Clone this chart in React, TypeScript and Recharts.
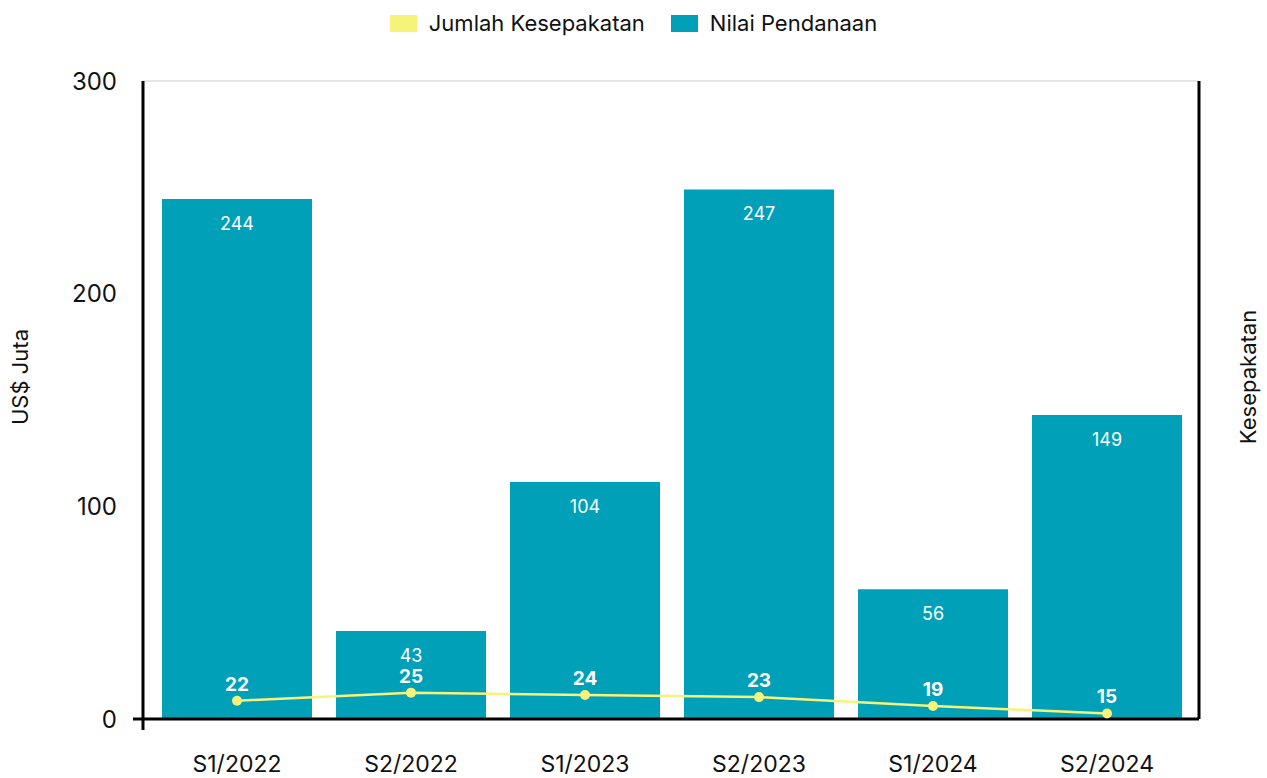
import { ComposedChart, Bar, Line, XAxis, YAxis, CartesianGrid, Legend, LabelList } from "recharts";

const periods = ["S1/2022", "S2/2022", "S1/2023", "S2/2023", "S1/2024", "S2/2024"];
// bar heights as drawn (US$ Juta) and the numbers printed on them
const fundingValues = [244.5, 41.4, 111.4, 249, 61, 143];
const fundingLabels = [244, 43, 104, 247, 56, 149];
// deal count line as drawn, and its printed labels
const dealValues = [8.6, 12.4, 11.3, 10.3, 6.1, 2.6];
const dealLabels = [22, 25, 24, 23, 19, 15];
const yTicks = [0, 100, 200, 300];

const TEAL = "#00A0B8";
const YELLOW = "#F7F27A";
const FONT = "Inter, 'Noto Sans', sans-serif";
const legendOrder = ["Jumlah Kesepakatan", "Nilai Pendanaan"];

const data = periods.map((period, i) => ({
  period,
  funding: fundingValues[i],
  fundingLabel: fundingLabels[i],
  deals: dealValues[i],
  dealsLabel: dealLabels[i],
}));

const LeftTick = ({ x, y, payload }: any) => (
  <g>
    <text x={x} y={y} textAnchor="end" dominantBaseline="central" fontSize={24} fill="#111" fontFamily={FONT}>
      {payload.value}
    </text>
    {payload.value === 0 && (
      <>
        <line x1={x + 16} y1={y} x2={x + 26} y2={y} stroke="#000" strokeWidth={3} />
        <line x1={x + 26} y1={y} x2={x + 26} y2={y + 11} stroke="#000" strokeWidth={3} />
      </>
    )}
  </g>
);

const SideLabel = ({ viewBox, value, dx }: any) => {
  const cx = viewBox.x + dx;
  const cy = viewBox.y + viewBox.height / 2 - 23;
  return (
    <text
      x={cx}
      y={cy}
      transform={`rotate(-90, ${cx}, ${cy})`}
      textAnchor="middle"
      dominantBaseline="central"
      fontSize={22}
      fill="#111"
      fontFamily={FONT}
    >
      {value}
    </text>
  );
};

const LegendContent = ({ payload }: any) => {
  const items = (payload || [])
    .slice()
    .sort((a: any, b: any) => legendOrder.indexOf(a.value) - legendOrder.indexOf(b.value));
  return (
    <div
      style={{
        height: 81,
        paddingTop: 11,
        boxSizing: "border-box",
        display: "flex",
        justifyContent: "center",
        alignItems: "flex-start",
        gap: 26,
        fontFamily: FONT,
      }}
    >
      {items.map((item: any) => (
        <div key={item.value} style={{ display: "flex", alignItems: "center", gap: 12 }}>
          <span style={{ width: 27, height: 17, background: item.color, display: "inline-block" }} />
          <span style={{ fontSize: 22, color: "#111", lineHeight: "24px" }}>{item.value}</span>
        </div>
      ))}
    </div>
  );
};

export default function App() {
  return (
    <div style={{ position: "absolute", left: 0, top: 0, background: "#fff" }}>
      <ComposedChart width={1267} height={778} data={data} margin={{ top: 0, right: 0, bottom: 0, left: 0 }}>
        <CartesianGrid vertical={false} stroke="#e6e6e6" strokeWidth={2} />
        <Legend verticalAlign="top" align="center" content={<LegendContent />} />
        <XAxis
          dataKey="period"
          height={59}
          tickLine={false}
          axisLine={{ stroke: "#000", strokeWidth: 3 }}
          tickMargin={31}
          padding={{ left: 7, right: 5 }}
          tick={{ fontSize: 23, fill: "#111", fontFamily: FONT }}
        />
        <YAxis
          yAxisId="left"
          width={143}
          domain={[0, 300]}
          ticks={yTicks}
          tickLine={false}
          tickMargin={20}
          axisLine={{ stroke: "#000", strokeWidth: 3 }}
          tick={<LeftTick />}
          label={<SideLabel value="US$ Juta" dx={20} />}
        />
        <YAxis
          yAxisId="right"
          orientation="right"
          width={68}
          domain={[0, 300]}
          tick={false}
          tickLine={false}
          axisLine={{ stroke: "#000", strokeWidth: 3 }}
          label={<SideLabel value="Kesepakatan" dx={49} />}
        />
        <Bar yAxisId="left" dataKey="funding" name="Nilai Pendanaan" fill={TEAL} barSize={150} isAnimationActive={false}>
          <LabelList dataKey="fundingLabel" position="insideTop" offset={18} fill="#fff" fontSize={18} fontFamily={FONT} />
        </Bar>
        <Line
          yAxisId="right"
          dataKey="deals"
          name="Jumlah Kesepakatan"
          stroke={YELLOW}
          strokeWidth={2.5}
          dot={{ r: 5, fill: YELLOW, stroke: YELLOW, strokeWidth: 0 }}
          activeDot={false}
          isAnimationActive={false}
        >
          <LabelList dataKey="dealsLabel" position="top" offset={10} fill="#fff" fontSize={19} fontWeight={700} fontFamily={FONT} />
        </Line>
      </ComposedChart>
    </div>
  );
}
